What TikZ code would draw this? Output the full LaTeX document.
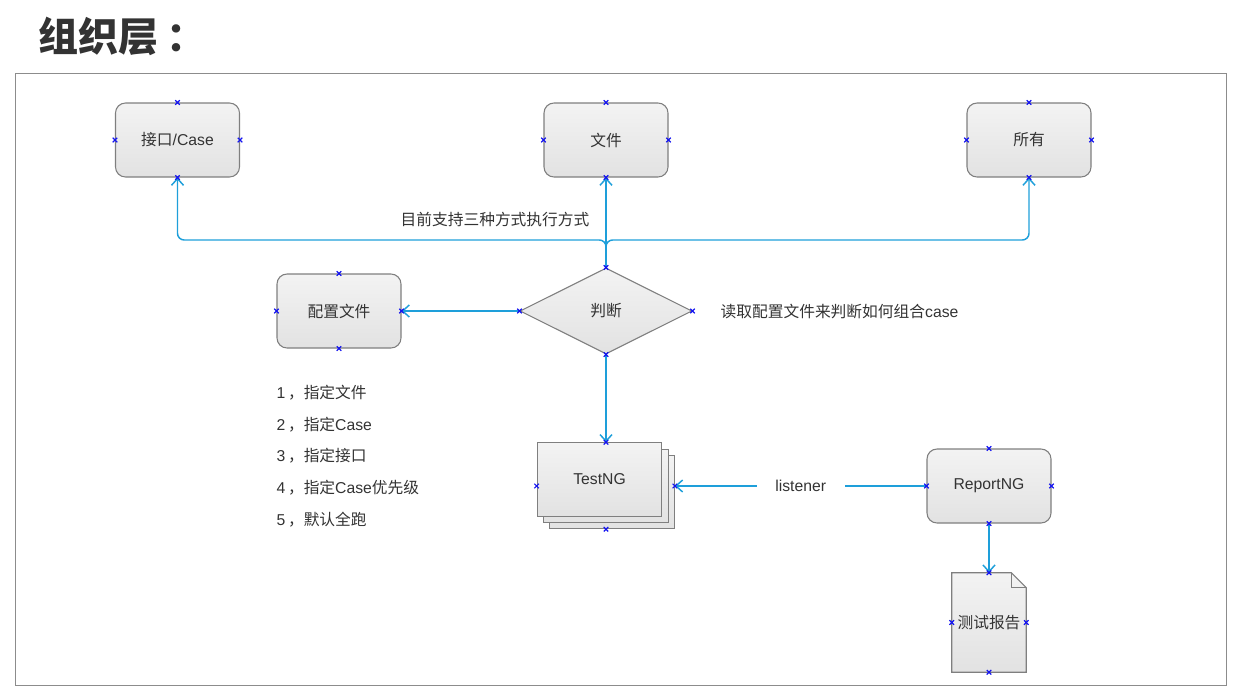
\documentclass[tikz,border=0pt]{standalone}
\usepackage{fontspec}
\setmainfont{Liberation Sans}
\newfontfamily\cjk{Noto Sans CJK SC}
\usetikzlibrary{shapes.geometric,arrows.meta}
\definecolor{framec}{HTML}{8C8C8C}
\definecolor{edgec}{HTML}{7F7F7F}
\definecolor{linkc}{HTML}{1E9FDA}
\definecolor{txtc}{HTML}{333333}
\definecolor{markc}{HTML}{1414F0}
\definecolor{boxtop}{HTML}{F3F3F3}
\definecolor{boxbot}{HTML}{E2E2E2}
\tikzset{
  lbl/.style={text=txtc, font=\fontsize{11.8}{14}\selectfont, inner sep=1pt},
  shapebase/.style={draw=edgec, line width=0.8pt, top color=boxtop, bottom color=boxbot, inner sep=0pt, text=txtc, font=\fontsize{11.8}{14}\selectfont},
  box/.style={shapebase, rounded corners=7.5pt, minimum width=93pt, minimum height=55.5pt},
  rectbox/.style={shapebase, minimum width=93.5pt, minimum height=55pt},
  decide/.style={shapebase, diamond, aspect=2, minimum width=129pt, minimum height=64.5pt},
  conn/.style={draw=linkc, line width=1.1pt, -{Straight Barb[length=5pt,width=9pt]}},
  cp/.pic={\draw[markc, line width=0.9pt] (-1.7pt,-1.7pt) -- (1.7pt,1.7pt) (-1.7pt,1.7pt) -- (1.7pt,-1.7pt);}
}
\begin{document}
\begin{tikzpicture}[x=0.75pt,y=-0.75pt]
\useasboundingbox (0,0) rectangle (1236,689);
% title
\node[anchor=west, text=txtc, inner sep=0pt, font=\fontsize{30}{36}\selectfont\cjk\bfseries] (title) at (38,36) {组织层\hspace{6pt}：};
% frame
\draw[framec, line width=0.9pt] (15.5,73.5) rectangle (1226.5,685.5);
% top boxes
\node[box] (api) at (177.5,140) {{\cjk 接口}/Case};
\node[box] (file) at (606,140) {\cjk 文件};
\node[box] (all) at (1029,140) {\cjk 所有};
\node[box] (cfg) at (339,311) {\cjk 配置文件};
\node[decide] (dia) at (606,311) {\cjk 判断};
% TestNG stack
\node[rectbox] (tb2) at (612,492) {};
\node[rectbox] (tb1) at (606,486) {};
\node[rectbox] (tng) at (599.5,479.5) {TestNG};
\coordinate (tngN) at (tb1 |- tng.north);
\coordinate (tngS) at (tb1 |- tb2.south);
\coordinate (tngW) at (tng.west |- tb1);
\coordinate (tngE) at (tb2.east |- tb1);
% ReportNG
\node[box] (rep) at (989,486) {ReportNG};
% document
\node[inner sep=0pt, minimum width=55.5pt, minimum height=74.25pt] (doc) at (989,622.5) {};
\path[shapebase] (doc.north west) -- ([xshift=-11.25pt]doc.north east) -- ([yshift=-11.25pt]doc.north east) -- (doc.south east) -- (doc.south west) -- cycle;
\draw[edgec, line width=0.8pt] ([xshift=-11.25pt]doc.north east) -- ([xshift=-11.25pt,yshift=-11.25pt]doc.north east) -- ([yshift=-11.25pt]doc.north east);
\node[text=txtc, inner sep=0pt, font=\fontsize{11.8}{14}\selectfont\cjk] (doctext) at (doc.center) {测试报告};
% connectors
\coordinate (jn) at (606,240);
\draw[conn] (dia.north) -- (file.south);
\draw[conn, rounded corners=5pt] (dia.north) -- (jn) -| (api.south);
\draw[conn, rounded corners=5pt] (dia.north) -- (jn) -| (all.south);
\draw[conn] (dia.west) -- (cfg.east);
\draw[conn] (dia.south) -- (tngN);
\draw[conn] (rep.west) -- node[lbl, fill=white, inner xsep=14pt] (lis) {listener} (tngE);
\draw[conn] (rep.south) -- (doc.north);
% labels
\node[lbl] (l1) at (495,219) {\cjk 目前支持三种方式执行方式};
\node[lbl, anchor=west] (l2) at (719,312) {{\cjk 读取配置文件来判断如何组合}case};
\node[lbl, anchor=west] (i1) at (275,393) {1\hspace{2pt}{\cjk ，指定文件}};
\node[lbl, anchor=west] (i2) at (275,425) {2\hspace{2pt}{\cjk ，指定}Case};
\node[lbl, anchor=west] (i3) at (275,456) {3\hspace{2pt}{\cjk ，指定接口}};
\node[lbl, anchor=west] (i4) at (275,488) {4\hspace{2pt}{\cjk ，指定}Case{\cjk 优先级}};
\node[lbl, anchor=west] (i5) at (275,520) {5\hspace{2pt}{\cjk ，默认全跑}};
% connection point marks
\foreach \n in {api,file,all,cfg,dia,rep,doc}{
  \foreach \a in {north,south,east,west}{
    \pic at (\n.\a) {cp};
  }
}
\foreach \c in {tngN,tngS,tngW,tngE}{ \pic at (\c) {cp}; }
\end{tikzpicture}
\end{document}
